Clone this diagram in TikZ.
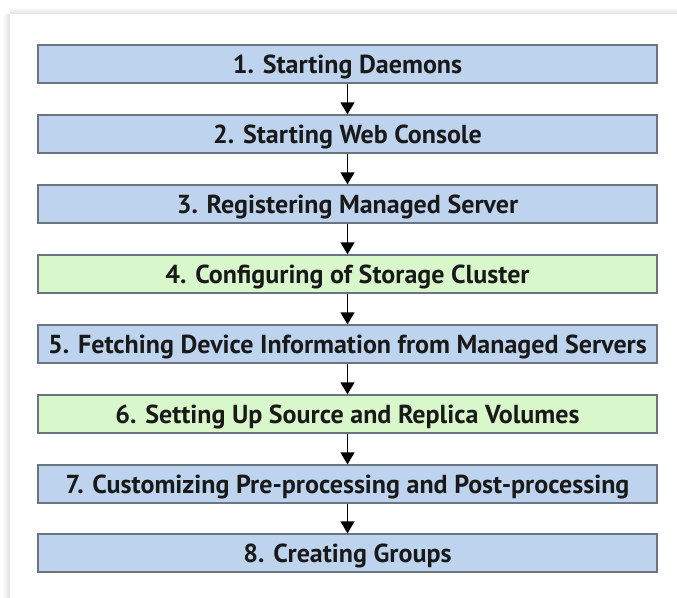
\documentclass[tikz,border=0pt]{standalone}
\usepackage{fontspec}
\setsansfont{PT Sans}
\usetikzlibrary{arrows.meta}
\definecolor{bluefill}{HTML}{BDD3EE}
\definecolor{greenfill}{HTML}{D8F8CC}
\definecolor{boxline}{HTML}{6C7480}
\tikzset{
  stepbox/.style={draw=boxline, line width=1.3pt, minimum width=619pt, minimum height=38pt, inner sep=0pt,
    text height=18pt, text depth=0pt,
    font=\sffamily\bfseries\fontsize{26}{28}\selectfont, text=black!90},
  bluebox/.style={stepbox, fill=bluefill},
  greenbox/.style={stepbox, fill=greenfill},
  flow/.style={line width=1.3pt, -{Triangle[length=12pt,width=14pt]}}
}
\begin{document}
\begin{tikzpicture}[x=1pt,y=-1pt]
\useasboundingbox (0,0) rectangle (677,597);
\fill[white] (0,0) rectangle (677,597);
% panel shadow
\shade[left color=white, right color=black!12] (2,14) rectangle (10,597);
\shade[top color=white, bottom color=black!12] (10,7) rectangle (677,14);
\fill[white] (10,14) rectangle (677,597);
\node[bluebox]  (s1) at (347.5,64) {1. Starting Daemons};
\node[bluebox]  (s2) at (347.5,134) {2. Starting Web Console};
\node[bluebox]  (s3) at (347.5,204) {3. Registering Managed Server};
\node[greenbox] (s4) at (347.5,274) {4. Configuring of Storage Cluster};
\node[bluebox]  (s5) at (347.5,344) {5. Fetching Device Information from Managed Servers};
\node[greenbox] (s6) at (347.5,414) {6. Setting Up Source and Replica Volumes};
\node[bluebox]  (s7) at (347.5,484) {7. Customizing Pre-processing and Post-processing};
\node[bluebox]  (s8) at (347.5,553) {8. Creating Groups};
\foreach \a/\b in {s1/s2,s2/s3,s3/s4,s4/s5,s5/s6,s6/s7,s7/s8}
  \draw[flow] (\a.south) -- (\b.north);
\end{tikzpicture}
\end{document}
